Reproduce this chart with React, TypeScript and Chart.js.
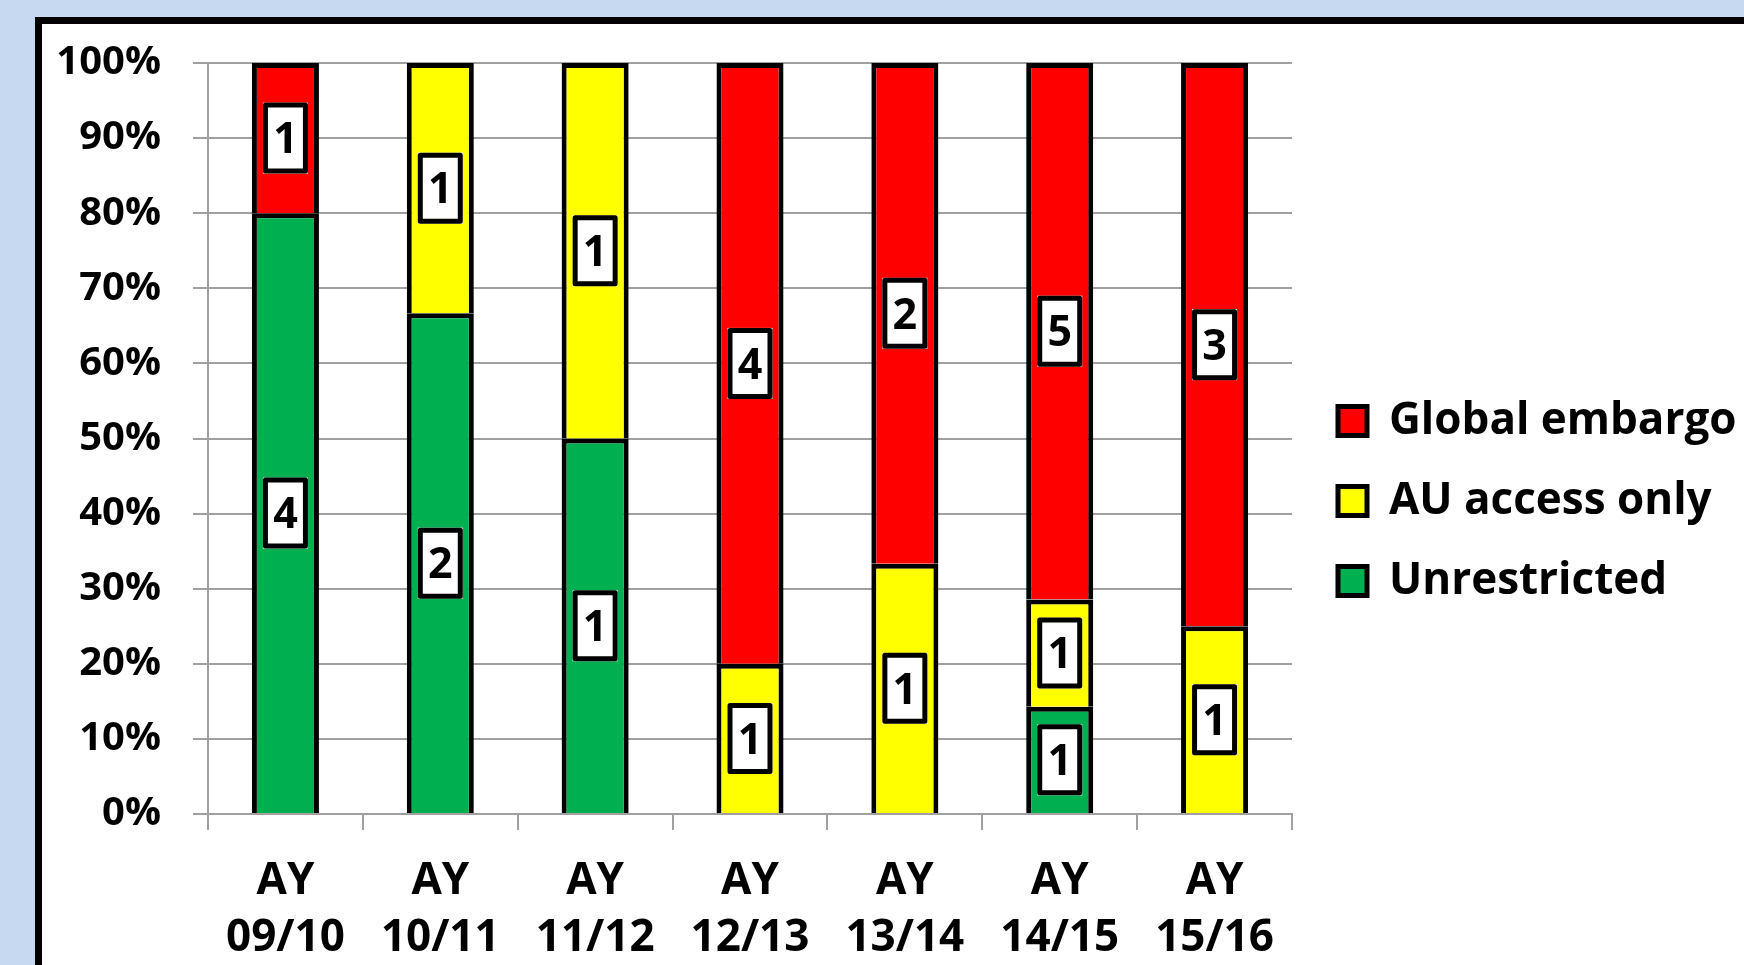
import React, { useEffect, useRef } from 'react';
import { Chart, registerables } from 'chart.js';

Chart.register(...registerables);

const W = 1744;
const H = 965;
const FONT = "'Open Sans', sans-serif";
const PAD_TOP = 63;
const PAD_BOTTOM = 26;
const PLOT_BOTTOM = 814;

const categories = [
  ['AY', '09/10'],
  ['AY', '10/11'],
  ['AY', '11/12'],
  ['AY', '12/13'],
  ['AY', '13/14'],
  ['AY', '14/15'],
  ['AY', '15/16'],
];
const unrestricted = [4, 2, 1, 0, 0, 1, 0];
const auAccessOnly = [0, 1, 1, 1, 1, 1, 1];
const globalEmbargo = [1, 0, 0, 4, 2, 5, 3];
const seriesNames = ['Unrestricted', 'AU access only', 'Global embargo'];
const seriesColors = ['#00b050', '#ffff00', '#ff0000'];
const yTicks = [0, 10, 20, 30, 40, 50, 60, 70, 80, 90, 100];

const totals = categories.map((_, i) => unrestricted[i] + auAccessOnly[i] + globalEmbargo[i]);
const toPct = (arr: number[]) => arr.map((v, i) => (v / totals[i]) * 100);

const backgroundPlugin = {
  id: 'bgBox',
  afterLayout(chart: any) {
    // let the x labels and the legend text draw beyond their fitted boxes
    if (chart.scales.x) chart.scales.x.bottom = chart.height;
    if (chart.legend) chart.legend.right = chart.width;
  },
  beforeDraw(chart: any) {
    const ctx = chart.ctx;
    ctx.save();
    ctx.fillStyle = '#c6d9f1';
    ctx.fillRect(0, 0, chart.width, chart.height);
    ctx.fillStyle = '#ffffff';
    ctx.fillRect(38.5, 20.5, chart.width + 20, chart.height + 20);
    ctx.strokeStyle = '#000000';
    ctx.lineWidth = 7;
    ctx.strokeRect(38.5, 20.5, chart.width + 20, chart.height + 20);
    ctx.restore();
  },
};

const countLabelPlugin = {
  id: 'countLabels',
  afterDatasetsDraw(chart: any) {
    const ctx = chart.ctx;
    ctx.save();
    chart.data.datasets.forEach((ds: any, di: number) => {
      const meta = chart.getDatasetMeta(di);
      if (meta.hidden) return;
      meta.data.forEach((el: any, i: number) => {
        const c = ds.counts[i];
        if (!c) return;
        const cx = el.x;
        const cy = (el.y + el.base) / 2;
        const w = 45;
        const h = 71;
        ctx.fillStyle = '#ffffff';
        ctx.fillRect(cx - w / 2, cy - h / 2, w, h);
        ctx.lineWidth = 5;
        ctx.strokeStyle = '#000000';
        ctx.lineJoin = 'round';
        ctx.strokeRect(cx - w / 2 + 2.5, cy - h / 2 + 2.5, w - 5, h - 5);
        ctx.fillStyle = '#000000';
        ctx.font = `bold 43px ${FONT}`;
        ctx.textAlign = 'center';
        ctx.textBaseline = 'middle';
        ctx.fillText(String(c), cx, cy + 3);
      });
    });
    ctx.restore();
  },
};

export default function App() {
  const ref = useRef<HTMLCanvasElement | null>(null);

  useEffect(() => {
    document.body.style.margin = '0';
    const canvas = ref.current;
    if (!canvas) return;
    const counts = [unrestricted, auAccessOnly, globalEmbargo];
    const chart = new Chart(canvas, {
      type: 'bar',
      data: {
        labels: categories,
        datasets: counts.map((arr, k) => ({
          label: seriesNames[k],
          data: toPct(arr),
          counts: arr,
          backgroundColor: seriesColors[k],
          borderColor: '#000000',
          borderWidth: 5,
          barPercentage: 0.433,
          categoryPercentage: 1,
        })) as any,
      },
      options: {
        responsive: false,
        animation: false,
        devicePixelRatio: 1,
        layout: { padding: { top: PAD_TOP, left: 0, right: 32, bottom: PAD_BOTTOM } },
        plugins: {
          tooltip: { enabled: false },
          legend: {
            position: 'right',
            reverse: true,
            maxWidth: 410,
            labels: {
              boxWidth: 29,
              boxHeight: 29,
              padding: 36,
              color: '#000000',
              font: { family: FONT, weight: 'bold', size: 44 },
            },
          },
        },
        scales: {
          x: {
            stacked: true,
            afterFit: (s: any) => {
              s.height = H - PAD_BOTTOM - PLOT_BOTTOM;
            },
            grid: {
              drawOnChartArea: false,
              drawTicks: true,
              tickLength: 16,
              color: '#a0a0a0',
              lineWidth: 2,
              offset: true,
            },
            border: { display: true, color: '#a0a0a0', width: 2 },
            ticks: {
              color: '#000000',
              padding: 23,
              maxRotation: 0,
              autoSkip: false,
              font: { family: FONT, weight: 'bold', size: 44, lineHeight: 1.3 },
            },
          },
          y: {
            stacked: true,
            min: 0,
            max: 100,
            afterFit: (s: any) => {
              s.width = 208;
            },
            afterBuildTicks: (s: any) => {
              s.ticks = yTicks.map((v) => ({ value: v }));
            },
            grid: {
              drawTicks: true,
              tickLength: 15,
              color: '#a0a0a0',
              lineWidth: 2,
            },
            border: { display: true, color: '#a0a0a0', width: 2 },
            ticks: {
              color: '#000000',
              padding: 32,
              callback: (v: any) => `${v}%`,
              font: { family: FONT, weight: 'bold', size: 40 },
            },
          },
          gap: {
            type: 'linear',
            position: 'right',
            display: true,
            afterFit: (s: any) => {
              s.width = 10;
            },
            grid: { display: false, drawTicks: false },
            border: { display: false },
            ticks: { display: false },
          },
        },
      },
      plugins: [backgroundPlugin, countLabelPlugin],
    } as any);
    return () => chart.destroy();
  }, []);

  return (
    <div style={{ position: 'fixed', left: 0, top: 0, width: W, height: H, overflow: 'hidden' }}>
      <canvas ref={ref} width={W} height={H} style={{ width: W, height: H, display: 'block' }} />
    </div>
  );
}
